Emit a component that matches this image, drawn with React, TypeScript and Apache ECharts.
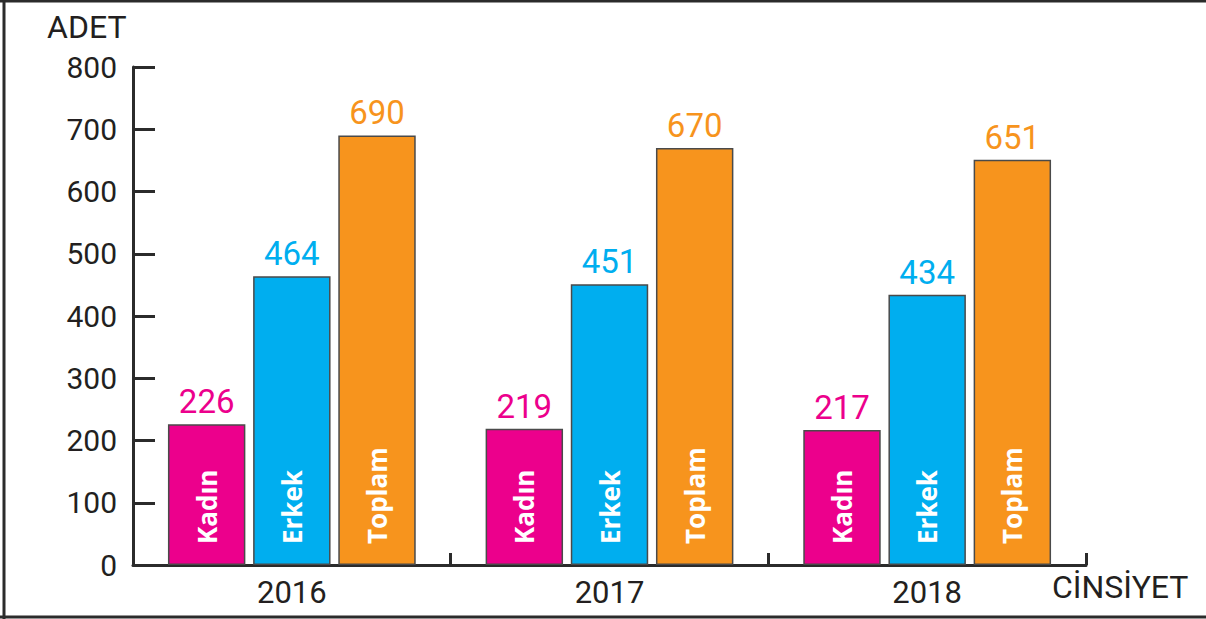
import React, { useEffect, useRef } from "react";
import * as echarts from "echarts";

const years = ["2016", "2017", "2018"];
const seriesNames = ["Kadın", "Erkek", "Toplam"];
const kadin = [226, 219, 217];
const erkek = [464, 451, 434];
const toplam = [690, 670, 651];
const colors = ["#EC008C", "#00AEEF", "#F7941D"];
const yTitle = "ADET";
const xTitle = "CİNSİYET";

export default function App() {
  const ref = useRef<HTMLDivElement>(null);
  useEffect(() => {
    if (!ref.current) return;
    const chart = echarts.init(ref.current, null, { renderer: "svg" });
    const values = [kadin, erkek, toplam];
    const dark = "#2b2b2b";
    const mainSeries = values.map((d, i) => ({
      type: "bar",
      name: seriesNames[i],
      xAxisIndex: 0,
      data: d,
      barGap: "10%",
      barCategoryGap: "22%",
      itemStyle: { color: colors[i], borderColor: "#4a4a4a", borderWidth: 1.5 },
      label: {
        show: true,
        position: "top",
        distance: 6,
        color: colors[i],
        fontFamily: "Roboto",
        fontSize: 33,
      },
    }));
    const nameSeries = values.map((d, i) => ({
      type: "bar",
      name: seriesNames[i] + "_lbl",
      xAxisIndex: 1,
      data: d,
      barGap: "10%",
      barCategoryGap: "22%",
      itemStyle: { color: "rgba(0,0,0,0)" },
      silent: true,
      label: {
        show: true,
        position: "insideBottom",
        rotate: 90,
        align: "left",
        verticalAlign: "middle",
        distance: 21,
        formatter: () => seriesNames[i],
        color: "#ffffff",
        fontFamily: "Open Sans",
        fontWeight: "bold",
        fontSize: 26,
      },
    }));
    chart.setOption({
      animation: false,
      backgroundColor: "#ffffff",
      grid: { left: 133, right: 120, top: 67, bottom: 54, containLabel: false },
      xAxis: [
        {
          type: "category",
          data: years,
          axisLine: { show: true, lineStyle: { color: dark, width: 3 } },
          axisTick: { show: true, inside: true, length: 12, lineStyle: { color: dark, width: 3 } },
          axisLabel: { fontFamily: "Roboto", fontSize: 31, color: "#231f20", margin: 12 },
        },
        { type: "category", data: years, show: false },
      ],
      yAxis: {
        type: "value",
        min: 0,
        max: 800,
        interval: 100,
        splitLine: { show: false },
        axisLine: { show: true, lineStyle: { color: dark, width: 3 } },
        axisTick: { show: true, inside: true, length: 22, lineStyle: { color: dark, width: 3 } },
        axisLabel: {
          fontFamily: "Roboto",
          fontSize: 30,
          color: "#231f20",
          margin: 16,
          padding: [8, 0, 0, 0],
        },
      },
      graphic: [
        { type: "line", shape: { x1: 0, y1: 1, x2: 1206, y2: 1 }, style: { stroke: dark, lineWidth: 3 } },
        { type: "line", shape: { x1: 4, y1: 0, x2: 4, y2: 619 }, style: { stroke: dark, lineWidth: 3 } },
        { type: "line", shape: { x1: 0, y1: 617, x2: 1206, y2: 617 }, style: { stroke: dark, lineWidth: 3 } },
        {
          type: "text",
          left: 47,
          top: 11,
          style: { text: yTitle, fontFamily: "Roboto", fontSize: 32, fill: "#231f20" },
        },
        {
          type: "text",
          left: 1052,
          top: 571,
          style: { text: xTitle, fontFamily: "Roboto", fontSize: 32, fill: "#231f20" },
        },
      ],
      series: [...mainSeries, ...nameSeries],
    });
    return () => chart.dispose();
  }, []);
  return (
    <div
      ref={ref}
      style={{ position: "absolute", left: 0, top: 0, width: 1206, height: 619 }}
    />
  );
}
